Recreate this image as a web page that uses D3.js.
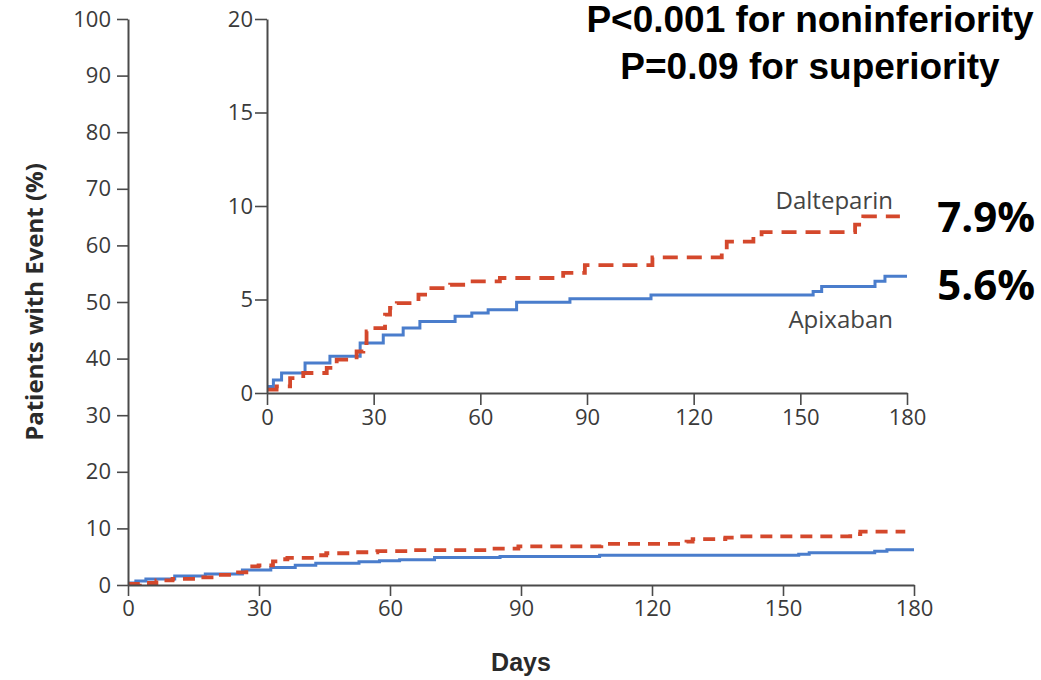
<!DOCTYPE html>
<html>
<head>
<meta charset="utf-8">
<script src="https://cdn.jsdelivr.net/npm/d3@7"></script>
<style>
  html, body { margin: 0; padding: 0; background: #fff; }
  svg { display: block; }
</style>
</head>
<body>
<svg id="chart" width="1041" height="680"></svg>
<script>
// Cumulative incidence of recurrent venous thromboembolism (Kaplan-Meier steps)
const apixabanDays = [0, 0.5, 1.8, 4.1, 10.7, 17.7, 26.2, 32.7, 38.3, 43, 52.9, 57.6, 62.2, 70.2, 85.2, 108, 153.6, 156, 171, 173.8, 180];
const apixabanPct  = [0.2, 0.35, 0.7, 1.07, 1.6, 1.96, 2.67, 3.1, 3.47, 3.83, 4.1, 4.28, 4.45, 4.85, 5.04, 5.24, 5.43, 5.7, 5.97, 6.24, 6.24];

const dalteparinDays = [0, 2.7, 6.5, 10.2, 16.8, 19.6, 25.2, 27.1, 28, 29.9, 33.2, 34.6, 36.5, 42.6, 45.4, 51.5, 57.1, 65.5, 83.3, 89.4, 108.4, 127.9, 129.3, 136.8, 139.1, 165.4, 167.7, 178];
const dalteparinPct  = [0.18, 0.35, 0.8, 1.07, 1.34, 1.78, 2.22, 2.67, 3.3, 3.47, 4.19, 4.55, 4.81, 5.26, 5.61, 5.79, 5.97, 6.15, 6.42, 6.84, 7.25, 7.66, 8.1, 8.37, 8.6, 9.0, 9.44, 9.44];

const xTicks = [0, 30, 60, 90, 120, 150, 180];
const mainYTicks = [0, 10, 20, 30, 40, 50, 60, 70, 80, 90, 100];
const insetYTicks = [0, 5, 10, 15, 20];

const seriesNames = ["Dalteparin", "Apixaban"];
const endRates = ["7.9%", "5.6%"];
const pLines = ["P<0.001 for noninferiority", "P=0.09 for superiority"];
const xTitle = "Days";
const yTitle = "Patients with Event (%)";

const BLUE = "#4a7dcc";
const RED = "#d4482c";
const AXIS = "#4a4a4a";
const TICKTXT = "#3a3a3a";
const tickFont = "Open Sans, sans-serif";

const svg = d3.select("#chart");

const apixaban = apixabanDays.map((d, i) => ({ day: d, pct: apixabanPct[i] }));
const dalteparin = dalteparinDays.map((d, i) => ({ day: d, pct: dalteparinPct[i] }));

function drawPanel(opts) {
  const { x, y, yTicks, tickLen, yPad, xPad, dash, width } = opts;
  const g = svg.append("g");

  // curves
  const line = d3.line().x(d => x(d.day)).y(d => y(d.pct)).curve(d3.curveStepAfter);
  g.append("path").datum(apixaban)
    .attr("d", line).attr("fill", "none")
    .attr("stroke", BLUE).attr("stroke-width", width);
  g.append("path").datum(dalteparin)
    .attr("d", line).attr("fill", "none")
    .attr("stroke", RED).attr("stroke-width", width + 0.8)
    .attr("stroke-dasharray", dash);

  // y axis
  const yAxis = g.append("g")
    .attr("transform", `translate(${x(0)},0)`)
    .call(d3.axisLeft(y).tickValues(yTicks).tickSize(tickLen).tickSizeOuter(0).tickPadding(yPad));
  // x axis
  const xAxis = g.append("g")
    .attr("transform", `translate(0,${y(0)})`)
    .call(d3.axisBottom(x).tickValues(xTicks).tickSize(tickLen).tickSizeOuter(0).tickPadding(xPad));

  [yAxis, xAxis].forEach(a => {
    a.select(".domain").attr("stroke", AXIS).attr("stroke-width", 2);
    a.selectAll(".tick line").attr("stroke", AXIS).attr("stroke-width", 1.6);
    a.selectAll(".tick text")
      .attr("fill", TICKTXT)
      .style("font-family", tickFont)
      .style("font-size", "22px");
  });
  return g;
}

// full-scale panel
const xMain = d3.scaleLinear().domain([0, 180]).range([128, 914]);
const yMain = d3.scaleLinear().domain([0, 100]).range([585, 19]);
drawPanel({ x: xMain, y: yMain, yTicks: mainYTicks, tickLen: 11, yPad: 6, xPad: 4, dash: "12,8", width: 3 });

// zoomed inset panel
const xInset = d3.scaleLinear().domain([0, 180]).range([267, 907]);
const yInset = d3.scaleLinear().domain([0, 20]).range([393, 19]);
drawPanel({ x: xInset, y: yInset, yTicks: insetYTicks, tickLen: 12, yPad: 2, xPad: 4, dash: "15,9", width: 3 });

// series labels in the inset
svg.append("text")
  .attr("x", 893).attr("y", 209).attr("text-anchor", "end")
  .attr("fill", "#444").style("font-family", tickFont).style("font-size", "24px")
  .text(seriesNames[0]);
svg.append("text")
  .attr("x", 893).attr("y", 328).attr("text-anchor", "end")
  .attr("fill", "#444").style("font-family", tickFont).style("font-size", "24px")
  .text(seriesNames[1]);

// axis titles
svg.append("text")
  .attr("transform", "translate(43,302) rotate(-90)")
  .attr("text-anchor", "middle")
  .attr("fill", "#2a2a2a")
  .style("font-family", "Open Sans, sans-serif").style("font-weight", "700").style("font-size", "24px")
  .text(yTitle);
svg.append("text")
  .attr("x", 521).attr("y", 671).attr("text-anchor", "middle")
  .attr("fill", "#2a2a2a")
  .style("font-family", "Liberation Sans, Arial, sans-serif").style("font-weight", "700").style("font-size", "25px")
  .text(xTitle);

// p-values
pLines.forEach((t, i) => {
  svg.append("text")
    .attr("x", 810).attr("y", 32 + i * 47).attr("text-anchor", "middle")
    .attr("fill", "#000")
    .style("font-family", "Liberation Sans, Arial, sans-serif").style("font-weight", "700").style("font-size", "37px")
    .text(t);
});

// end-of-follow-up rates
endRates.forEach((t, i) => {
  svg.append("text")
    .attr("x", 1035).attr("y", 232 + i * 68).attr("text-anchor", "end")
    .attr("fill", "#000")
    .style("font-family", "Open Sans, sans-serif").style("font-weight", "700").style("font-size", "42px")
    .text(t);
});
</script>
</body>
</html>
